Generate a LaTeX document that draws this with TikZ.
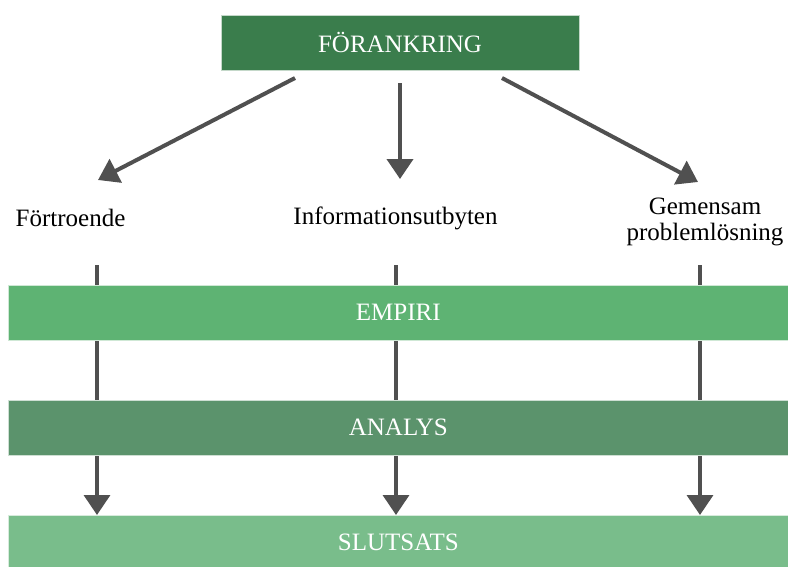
\documentclass[tikz,border=0pt]{standalone}
\usepackage{fontspec}
\setmainfont{Liberation Serif}
\usetikzlibrary{arrows.meta,backgrounds}
\definecolor{topgreen}{RGB}{58,125,76}
\definecolor{empgreen}{RGB}{94,179,115}
\definecolor{anagreen}{RGB}{91,147,108}
\definecolor{slutgreen}{RGB}{121,189,139}
\definecolor{arrowgray}{RGB}{80,80,80}
\begin{document}
\begin{tikzpicture}[x=1pt,y=-1pt,
  txt/.style={font=\fontsize{25}{26}\selectfont},
  boxstyle/.style={txt, text=white, inner sep=0pt, minimum height=55pt, draw=white!70!#1, fill=#1, line width=0.6pt},
  bar/.style={boxstyle=#1, minimum width=780pt, anchor=north west},
  lab/.style={txt, text=black, align=center, inner sep=0pt},
  conn/.style={draw=arrowgray, line width=4pt, -{Triangle[length=20pt,width=26pt]}},
  vconn/.style={draw=arrowgray, line width=3.5pt, -{Triangle[length=20pt,width=26pt]}}]
\useasboundingbox (0,0) rectangle (788,566);

\node[boxstyle=topgreen, minimum width=358pt] (top) at (400,42.5) {FÖRANKRING};

\node[bar=empgreen] (emp) at (8,285) {EMPIRI};
\node[bar=anagreen] (ana) at (8,400) {ANALYS};
\node[bar=slutgreen] (slut) at (8,515) {SLUTSATS};

\node[lab, anchor=base] (fort) at (70.5,226) {Förtroende};
\node[lab, anchor=base] (info) at (395.5,224) {Informationsutbyten};
\node[lab, anchor=center] (gem) at (705,222) {Gemensam\\problemlösning};

\coordinate (a1s) at (295,78);
\coordinate (a1e) at (98,180);
\coordinate (a2s) at (400,83);
\coordinate (a2e) at (400,179);
\coordinate (a3s) at (502,78);
\coordinate (a3e) at (698,182);
\draw[conn] (a1s) -- (a1e);
\draw[conn] (a2s) -- (a2e);
\draw[conn] (a3s) -- (a3e);

\coordinate (v1s) at (97,265);
\coordinate (v2s) at (396,265);
\coordinate (v3s) at (700,265);
\begin{scope}[on background layer]
\draw[vconn] (v1s) -- (v1s |- slut.north);
\draw[vconn] (v2s) -- (v2s |- slut.north);
\draw[vconn] (v3s) -- (v3s |- slut.north);
\end{scope}
\end{tikzpicture}
\end{document}
